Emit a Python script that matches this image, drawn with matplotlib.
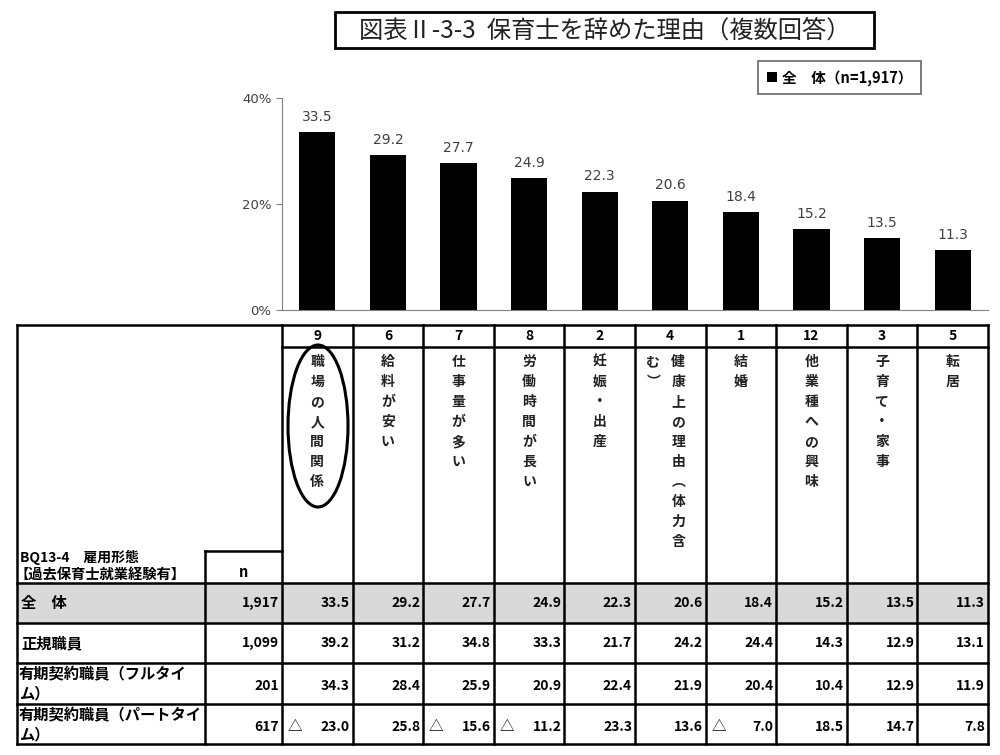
import matplotlib
matplotlib.use("Agg")
import matplotlib.pyplot as plt
from matplotlib.patches import Rectangle, Ellipse

plt.rcParams['font.family'] = ['Noto Sans CJK JP', 'DejaVu Sans']

# chart data
codes = ['9', '6', '7', '8', '2', '4', '1', '12', '3', '5']
reasons = ['職場の人間関係', '給料が安い', '仕事量が多い', '労働時間が長い', '妊娠・出産',
           '健康上の理由（体力含む）', '結婚', '他業種への興味', '子育て・家事', '転居']
total_pct = [33.5, 29.2, 27.7, 24.9, 22.3, 20.6, 18.4, 15.2, 13.5, 11.3]

row_labels = [['全　体'], ['正規職員'], ['有期契約職員（フルタイ', 'ム）'], ['有期契約職員（パートタイ', 'ム）']]
row_n = ['1,917', '1,099', '201', '617']
row_values = [
    [33.5, 29.2, 27.7, 24.9, 22.3, 20.6, 18.4, 15.2, 13.5, 11.3],
    [39.2, 31.2, 34.8, 33.3, 21.7, 24.2, 24.4, 14.3, 12.9, 13.1],
    [34.3, 28.4, 25.9, 20.9, 22.4, 21.9, 20.4, 10.4, 12.9, 11.9],
    [23.0, 25.8, 15.6, 11.2, 23.3, 13.6, 7.0, 18.5, 14.7, 7.8],
]
# significantly lower cells (marked with a triangle)
row_marks = [
    [False] * 10,
    [False] * 10,
    [False] * 10,
    [True, False, True, True, False, False, True, False, False, False],
]

W, H = 1000, 755
fig = plt.figure(figsize=(W / 100, H / 100), dpi=100)

# full-figure overlay in pixel coordinates for the table
tax = fig.add_axes([0, 0, 1, 1])
tax.set_xlim(0, W)
tax.set_ylim(H, 0)
tax.axis('off')

# layout in pixels
tab_left, n_left, col_left, col_w = 17, 205, 282, 70.6
ncol = len(codes)
col_right = col_left + col_w * ncol
y_top, y_code, y_head = 325, 347, 551
row_edges = [583, 623, 663, 704, 744]

# bar chart axes aligned to the table columns
ax = fig.add_axes([col_left / W, 1 - 310 / H, (col_right - col_left) / W, (310 - 98) / H])
ax.bar(range(ncol), total_pct, width=0.51, color='black', zorder=3)
for i, v in enumerate(total_pct):
    ax.text(i, v + 1.6, f'{v:.1f}', ha='center', va='bottom', fontsize=10,
            color='#404040', family=['DejaVu Sans'])
ax.set_xlim(-0.5, ncol - 0.5)
ax.set_ylim(0, 40)
ax.set_yticks([0, 20, 40])
ax.set_yticklabels(['0%', '20%', '40%'], fontsize=9.5, color='#404040', family=['DejaVu Sans'])
ax.set_xticks([])
ax.tick_params(axis='y', length=4, color='#808080')
for s in ['top', 'right']:
    ax.spines[s].set_visible(False)
ax.spines['left'].set_color('#808080')
ax.spines['bottom'].set_color('#808080')
ax.patch.set_alpha(0)

# legend
fig.legend([ax.patches[0]], ['全\u3000体（n=1,917）'], loc='center',
           bbox_to_anchor=(839.5 / W, 1 - 77.5 / H), frameon=True, fancybox=False,
           edgecolor='#404040', handlelength=0.7, handleheight=0.7,
           handletextpad=0.3, borderpad=0.6, prop={'weight': 'bold', 'size': 10.5})
fig.legends[0].get_frame().set_linewidth(1.2)

# title box
tax.add_patch(Rectangle((335, 12), 539, 36, fill=False, lw=2, ec='black'))
tax.text(604.5, 31, '図表Ⅱ-3-3  保育士を辞めた理由（複数回答）', ha='center', va='center',
         fontsize=17.5, color='#222222')

# table background for 全体 row
tax.add_patch(Rectangle((tab_left, row_edges[0]), col_right - tab_left,
                        row_edges[1] - row_edges[0], color='#d9d9d9', lw=0, zorder=0))

lw = 1.8
col_x = [col_left + col_w * i for i in range(ncol + 1)]
for x in col_x:
    tax.plot([x, x], [y_top, row_edges[-1]], color='black', lw=lw)
tax.plot([tab_left, tab_left], [y_top, row_edges[-1]], color='black', lw=lw)
tax.plot([n_left, n_left], [y_head, row_edges[-1]], color='black', lw=lw)
tax.plot([tab_left, col_right], [y_top, y_top], color='black', lw=lw)
tax.plot([col_left, col_right], [y_code, y_code], color='black', lw=lw)
tax.plot([n_left, col_left], [y_head, y_head], color='black', lw=lw)
for y in row_edges:
    tax.plot([tab_left, col_right], [y, y], color='black', lw=lw)

# column codes and vertical reason labels
vflip = str.maketrans({'（': '︵', '）': '︶'})
step, per_col = 20, 10
for i, (c, r) in enumerate(zip(codes, reasons)):
    cx = col_left + col_w * (i + 0.5)
    tax.text(cx, y_code - 11, c, ha='center', va='center', fontsize=10, weight='bold')
    chars = list(r.translate(vflip))
    ncols_txt = (len(chars) - 1) // per_col + 1
    for j, ch in enumerate(chars):
        k, m = divmod(j, per_col)
        x = cx + (ncols_txt - 1) * 8 - k * 25
        tax.text(x, 362 + m * step, ch, ha='center', va='center', fontsize=10, weight='bold',
                 color='#222222')

# highlight ellipse on the top reason
tax.add_patch(Ellipse((318, 426), 60, 162, fill=False, lw=2.2, ec='black'))

# header texts
tax.text(20, 557, 'BQ13-4\u3000雇用形態', ha='left', va='center', fontsize=10, weight='bold')
tax.text(15, 575, '【過去保育士就業経験有】', ha='left', va='center', fontsize=10.3, weight='bold')
tax.text((n_left + col_left) / 2, 572, 'n', ha='center', va='center', fontsize=10.5, weight='bold')

# data rows
for r in range(len(row_labels)):
    top, bot = row_edges[r], row_edges[r + 1]
    mid = (top + bot) / 2
    lines = row_labels[r]
    if len(lines) == 1:
        tax.text(21, mid, lines[0], ha='left', va='center', fontsize=11, weight='bold')
        ny = mid
    else:
        tax.text(19, mid - 9, lines[0], ha='left', va='center', fontsize=11, weight='bold')
        tax.text(19, mid + 10, lines[1], ha='left', va='center', fontsize=11, weight='bold')
        ny = mid + 3
    tax.text(col_left - 3, ny, row_n[r], ha='right', va='center', fontsize=10, weight='bold')
    for i, v in enumerate(row_values[r]):
        x0 = col_left + col_w * i
        tax.text(x0 + col_w - 3, ny, f'{v:.1f}', ha='right', va='center', fontsize=10,
                 weight='bold')
        if row_marks[r][i]:
            tax.text(x0 + 13, ny, '△', ha='center', va='center', fontsize=10.5)

fig.savefig('out.png', dpi=100)
